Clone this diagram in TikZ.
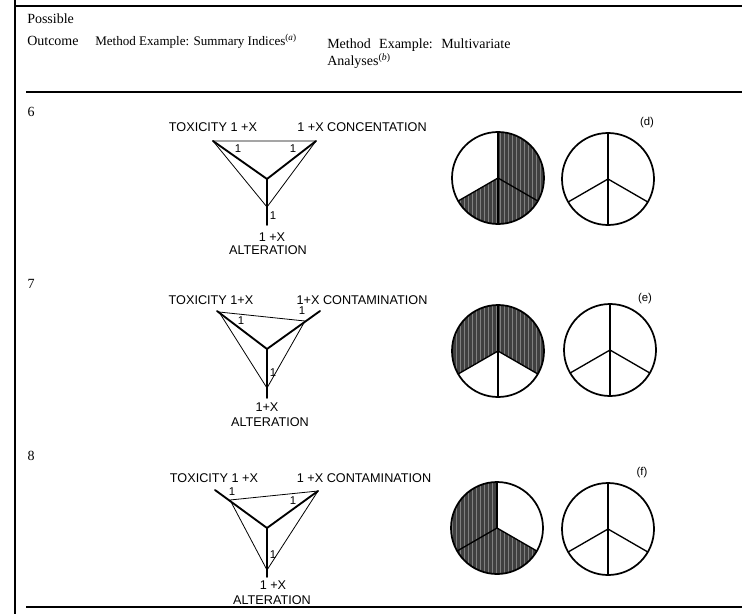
\documentclass[tikz,border=0pt]{standalone}
\usepackage{fontspec}
\setmainfont{Liberation Serif}
\newfontfamily\arial{Liberation Sans}
\usetikzlibrary{patterns}
\begin{document}
\begin{tikzpicture}[x=0.75pt,y=-0.75pt,
  axisline/.style={line width=1.4pt, line cap=round},
  triline/.style={line width=0.6pt},
  lab/.style={font=\arial\fontsize{9.5}{10}\selectfont, inner sep=0pt},
  onelab/.style={font=\arial\fontsize{8.5}{9}\selectfont, inner sep=0pt},
  letterlab/.style={font=\arial\fontsize{8.5}{9}\selectfont, inner sep=0pt},
  hdr/.style={font=\fontsize{10.5}{12}\selectfont, inner sep=0pt, anchor=west},
  hdrs/.style={font=\fontsize{9.8}{12}\selectfont, inner sep=0pt, anchor=west},
  rownum/.style={font=\fontsize{10.5}{12}\selectfont, inner sep=0pt},
  rim/.style={line width=1.3pt},
  spoke/.style={line width=1pt},
  shaded/.style={fill=black!75},
  texture/.style={pattern=vertical lines, pattern color=black!50},
  rulethick/.style={line width=1.6pt},
  rulethin/.style={line width=1.2pt}]
\useasboundingbox (0,0) rectangle (742,614);

% frame rules
\draw[rulethick] (15,0) -- (15,614);
\draw[rulethick] (15,6) -- (742,6);
\draw[rulethin] (26,92) -- (742,92);
\draw[rulethin] (26,607) -- (742,607);

% header
\node[hdr] (hpos) at (27,19) {Possible};
\node[hdr] (hout) at (27,41) {Outcome};
\node[hdrs] (hsum) at (95,41) {Method Example: Summary Indices\textsuperscript{(\textit{a})}};
\node[hdr] (hmul) at (327,45) {Method\hspace{0.6em}Example:\hspace{0.6em}Multivariate};
\node[hdr] (hana) at (327,61) {Analyses\textsuperscript{(\textit{b})}};

% row numbers
\node[rownum] (n6) at (31,112) {6};
\node[rownum] (n7) at (31,284) {7};
\node[rownum] (n8) at (31,456) {8};

% ---------- row 6 triad ----------
\coordinate (c6) at (267,179);
\coordinate (tl6) at (213,141);
\coordinate (tr6) at (316,141);
\coordinate (b6) at (267,225);
\coordinate (p6a) at (213,141);
\coordinate (p6b) at (316,141);
\coordinate (p6c) at (267,207);
\draw[triline] (p6a) -- (p6b) -- (p6c) -- cycle;
\draw[axisline] (tl6) -- (c6) -- (tr6);
\draw[axisline] (c6) -- (b6);
\node[onelab] (o6a) at (238,149) {1};
\node[onelab] (o6b) at (293,149) {1};
\node[onelab] (o6c) at (273,216) {1};
\node[lab] (t6a) at (213,127) {TOXICITY 1 +X};
\node[lab] (t6b) at (362,127) {1 +X CONCENTATION};
\node[lab] (t6c) at (272,237) {1 +X};
\node[lab] (t6d) at (268,250) {ALTERATION};

% ---------- row 7 triad ----------
\coordinate (c7) at (267,349);
\coordinate (tl7) at (217,311);
\coordinate (tr7) at (320,311);
\coordinate (b7) at (267,398);
\coordinate (p7a) at (219,312);
\coordinate (p7b) at (305,321);
\coordinate (p7c) at (267,388);
\draw[triline] (p7a) -- (p7b) -- (p7c) -- cycle;
\draw[axisline] (tl7) -- (c7) -- (tr7);
\draw[axisline] (c7) -- (b7);
\node[onelab] (o7a) at (241,321) {1};
\node[onelab] (o7b) at (302,311) {1};
\node[onelab] (o7c) at (273,373) {1};
\node[lab] (t7a) at (211,300) {TOXICITY 1+X};
\node[lab] (t7b) at (362,300) {1+X CONTAMINATION};
\node[lab] (t7c) at (267,407) {1+X};
\node[lab] (t7d) at (270,422) {ALTERATION};

% ---------- row 8 triad ----------
\coordinate (c8) at (267,528);
\coordinate (tl8) at (215,490);
\coordinate (tr8) at (318,491);
\coordinate (b8) at (267,577);
\coordinate (p8a) at (230,500);
\coordinate (p8b) at (318,491);
\coordinate (p8c) at (267,570);
\draw[triline] (p8a) -- (p8b) -- (p8c) -- cycle;
\draw[axisline] (tl8) -- (c8) -- (tr8);
\draw[axisline] (c8) -- (b8);
\node[onelab] (o8a) at (232,492) {1};
\node[onelab] (o8b) at (293,501) {1};
\node[onelab] (o8c) at (273,555) {1};
\node[lab] (t8a) at (214,478) {TOXICITY 1 +X};
\node[lab] (t8b) at (364,478) {1 +X CONTAMINATION};
\node[lab] (t8c) at (273,585) {1 +X};
\node[lab] (t8d) at (272,600) {ALTERATION};

% ---------- pies (user angle u = - visual angle) ----------
% row 6, pie 1: white sector upper-left
\coordinate (q6) at (498,178);
\fill[shaded] (q6) -- ++(-90:46) arc[start angle=-90, end angle=150, radius=46] -- cycle;
\path[texture] (q6) -- ++(-90:46) arc[start angle=-90, end angle=150, radius=46] -- cycle;
\draw[spoke] (q6) -- ++(270:46);
\draw[spoke] (q6) -- ++(90:46);
\draw[spoke] (q6) -- ++(150:46);
\draw[spoke] (q6) -- ++(30:46);
\draw[rim] (q6) circle[radius=46];
% row 6, pie 2
\coordinate (r6) at (608,179);
\draw[spoke] (r6) -- ++(270:46);
\draw[spoke] (r6) -- ++(90:46);
\draw[spoke] (r6) -- ++(150:46);
\draw[spoke] (r6) -- ++(30:46);
\draw[rim] (r6) circle[radius=46];
\node[letterlab] (d6) at (647,123) {(d)};

% row 7, pie 1: white sector bottom
\coordinate (q7) at (498,351);
\fill[shaded] (q7) -- ++(150:46) arc[start angle=150, end angle=390, radius=46] -- cycle;
\path[texture] (q7) -- ++(150:46) arc[start angle=150, end angle=390, radius=46] -- cycle;
\draw[spoke] (q7) -- ++(270:46);
\draw[spoke] (q7) -- ++(90:46);
\draw[spoke] (q7) -- ++(150:46);
\draw[spoke] (q7) -- ++(30:46);
\draw[rim] (q7) circle[radius=46];
% row 7, pie 2
\coordinate (r7) at (610,350);
\draw[spoke] (r7) -- ++(270:46);
\draw[spoke] (r7) -- ++(90:46);
\draw[spoke] (r7) -- ++(150:46);
\draw[spoke] (r7) -- ++(30:46);
\draw[rim] (r7) circle[radius=46];
\node[letterlab] (e7) at (645,299) {(e)};

% row 8, pie 1: white sector right
\coordinate (q8) at (497,528);
\fill[shaded] (q8) -- ++(30:46) arc[start angle=30, end angle=270, radius=46] -- cycle;
\path[texture] (q8) -- ++(30:46) arc[start angle=30, end angle=270, radius=46] -- cycle;
\draw[spoke] (q8) -- ++(270:46);
\draw[spoke] (q8) -- ++(150:46);
\draw[spoke] (q8) -- ++(30:46);
\draw[rim] (q8) circle[radius=46];
% row 8, pie 2
\coordinate (r8) at (608,529);
\draw[spoke] (r8) -- ++(270:46);
\draw[spoke] (r8) -- ++(90:46);
\draw[spoke] (r8) -- ++(150:46);
\draw[spoke] (r8) -- ++(30:46);
\draw[rim] (r8) circle[radius=46];
\node[letterlab] (f8) at (642,473) {(f)};
\end{tikzpicture}
\end{document}
